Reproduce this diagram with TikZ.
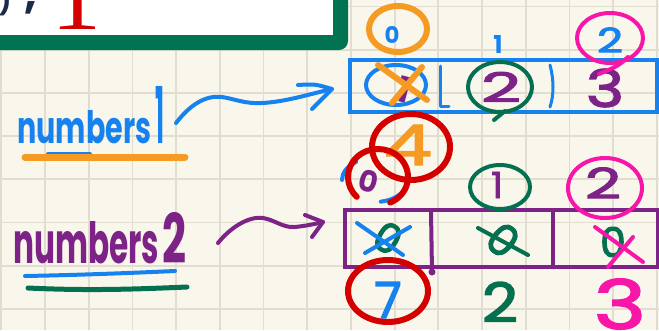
\documentclass[tikz,border=0pt]{standalone}
\usepackage{fontspec}
\setmainfont{Poppins}
\newfontfamily\serifnum{Liberation Serif}
\newfontfamily\pmid{Poppins}[FakeBold=2.5]
\usepackage{graphicx}
\definecolor{pblue}{RGB}{21,130,240}
\definecolor{porange}{RGB}{245,155,35}
\definecolor{ppurple}{RGB}{125,35,135}
\definecolor{pgreen}{RGB}{5,112,80}
\definecolor{ppink}{RGB}{248,22,168}
\definecolor{pred}{RGB}{212,0,0}
\definecolor{framegreen}{RGB}{0,115,82}
\definecolor{navy}{RGB}{30,42,75}
\definecolor{paper}{RGB}{249,247,236}
\definecolor{gridc}{RGB}{225,222,209}
\tikzset{
  pen/.style={line width=4pt, line cap=round, line join=round},
  fatpen/.style={line width=6pt, line cap=round, line join=round},
  digit/.style={inner sep=0pt, font=\bfseries},
  bigdigit/.style={inner sep=0pt, font=\pmid},
  gridline/.style={gridc, line width=1.8pt},
}
\begin{document}
\begin{tikzpicture}[x=1pt,y=-1pt]
\useasboundingbox (0,0) rectangle (659,330);
\clip (0,0) rectangle (659,330);
\fill[paper] (0,0) rectangle (659,330);
% grid
\foreach \i in {0,...,15} \draw[gridline] ({1.3+43.7*\i},0) -- ({1.3+43.7*\i},330);
\foreach \j in {0,...,7} \draw[gridline] (0,{6.5+43.2*\j}) -- (659,{6.5+43.2*\j});
% framed white box at top left
\fill[framegreen, rounded corners=9pt] (-30,-30) rectangle (348,50);
\fill[white] (-30,-30) rectangle (333,35);
\node[inner sep=0pt, anchor=base, text=navy, font=\bfseries\fontsize{26}{26}\selectfont] (frag1) at (5,10) {)};
\node[inner sep=0pt, anchor=base, text=navy, font=\bfseries\fontsize{44}{44}\selectfont] (frag2) at (31,8) {,};
\node[inner sep=0pt, anchor=base, text=pred] (frag3) at (76,29) {\resizebox{50pt}{64pt}{\serifnum 1}};
% labels
\node[inner sep=0pt, anchor=base west, text=pblue, font=\bfseries] (lab1) at (17,143)
  {\resizebox{134pt}{33pt}{numbers}\hspace{4pt}\resizebox{9pt}{57pt}{1}};
\node[inner sep=0pt, anchor=base west, text=ppurple, font=\bfseries] (lab2) at (13,263)
  {\resizebox{146pt}{42pt}{numbers}\hspace{3pt}\resizebox{24pt}{51pt}{2}};
% underlines
\draw[pen, pblue] (48,154) -- (90,154);
\draw[line width=7pt, line cap=round, porange] (25,157) -- (185,157);
\draw[pen, pblue] (25,276) .. controls (80,275) and (130,273) .. (175,271);
\draw[line width=5pt, line cap=round, pgreen] (28,288) .. controls (90,291) and (140,289) .. (187,287);
% arrows
\coordinate (a1s) at (176,123);
\coordinate (a1e) at (332,89);
\coordinate (a1h1) at (298,85);
\coordinate (a1h2) at (312,109);
\draw[pen, pblue] (a1s) .. controls (190,105) and (205,95) .. (222,97)
   .. controls (235,99) and (245,104) .. (262,103)
   .. controls (285,102) and (310,94) .. (a1e);
\draw[pen, pblue] (a1h1) .. controls (315,84) .. (a1e) -- (a1h2);
\coordinate (a2s) at (218,243);
\coordinate (a2e) at (323,222);
\coordinate (a2h1) at (305,215);
\coordinate (a2h2) at (312,237);
\draw[pen, ppurple] (a2s) .. controls (230,228) and (248,216) .. (263,218)
   .. controls (275,220) and (283,228) .. (295,227)
   .. controls (305,226) and (315,224) .. (a2e);
\draw[pen, ppurple] (a2h1) -- (a2e) -- (a2h2);
% array 1
\node[draw=pblue, line width=4pt, minimum width=307pt, minimum height=52pt, inner sep=0pt] (arr1) at (503.5,86) {};
\draw[pen, pblue, line width=3pt] (440,66) -- (440,106) -- (449,106);
\draw[pen, pblue, line width=3pt] (550,65) .. controls (554,80) and (554,95) .. (550,107);
% array 2
\node[draw=ppurple, line width=4pt, minimum width=313pt, minimum height=57pt, inner sep=0pt] (arr2) at (501.5,238.5) {};
\draw[pen, ppurple] (431,211) -- (432,272);
\fill[ppurple] (432,272) circle (3.5);
\draw[pen, ppurple] (553,212) -- (553,266);
% digits: row above array 1
\node[digit, text=pblue] (t0) at (392,35) {\resizebox{!}{17pt}{0}};
\node[digit, text=pblue] (t1) at (498,44) {\resizebox{!}{18pt}{1}};
\node[bigdigit, text=pblue] (t2) at (610,40) {\resizebox{26pt}{25pt}{2}};
% array 1 cells
\node[digit, text=ppurple, rotate=-15] (c11) at (404,90) {\resizebox{!}{26pt}{1}};
\node[bigdigit, text=ppurple] (c12) at (501,87) {\resizebox{40pt}{30pt}{2}};
\node[bigdigit, text=ppurple] (c13) at (605,88) {\resizebox{38pt}{38pt}{3}};
% below array 1
\node[bigdigit, text=porange] (f4) at (408,145) {\resizebox{48pt}{40pt}{4}};
% above array 2
\node[digit, text=ppurple, rotate=-15] (u0) at (369,181) {\resizebox{!}{22pt}{0}};
\node[bigdigit, text=ppurple] (u1) at (497,185) {\resizebox{!}{26pt}{1}};
\node[bigdigit, text=ppurple] (u2) at (603,183) {\resizebox{36pt}{31pt}{2}};
% array 2 cells
\node[bigdigit, text=pgreen, rotate=-30] (d1) at (388,238) {\resizebox{!}{30pt}{0}};
\node[bigdigit, text=pgreen, rotate=-40] (d2) at (503,240) {\resizebox{!}{32pt}{0}};
\node[bigdigit, text=pgreen] (d3) at (613,242) {\resizebox{!}{30pt}{0}};
% below array 2
\node[bigdigit, text=pblue] (b7) at (388,300) {\resizebox{!}{36pt}{7}};
\node[bigdigit, text=pgreen] (b2) at (500,302) {\resizebox{36pt}{40pt}{2}};
\node[bigdigit, text=ppink] (b3) at (620,304) {\resizebox{52pt}{50pt}{3}};
% marks on array 1
\draw[fatpen, porange] (398,29) ellipse [x radius=29, y radius=23];
\draw[pen, ppink] (610,38) ellipse [x radius=33, y radius=25];
\draw[pen, ppink] (628,57) .. controls (618,66) .. (599,74);
\draw[pen, pblue] (396,85) ellipse [x radius=30, y radius=20];
\draw[fatpen, porange] (378,65) -- (427,100);
\draw[fatpen, porange] (422,67) -- (392,103);
\draw[pen, pgreen] (500,87) ellipse [x radius=32, y radius=25];
\draw[pen, pgreen] (505,111) .. controls (500,116) .. (494,120);
% marks between arrays
\draw[pen, pblue] (375,180) ++(180:33 and 22) arc[start angle=180, end angle=235, x radius=33, y radius=22];
\draw[pen, pblue] (375,180) ++(10:33 and 22) arc[start angle=10, end angle=80, x radius=33, y radius=22];
\draw[fatpen, pred] (411,147) ellipse [x radius=39, y radius=33];
\draw[fatpen, pred] (378,177) ++(135:30 and 28) arc[start angle=135, end angle=426, x radius=30, y radius=28];
\draw[pen, pgreen] (500,187) ellipse [x radius=30, y radius=22];
\draw[pen, ppink] (605,188) ellipse [x radius=37, y radius=30];
% marks on array 2
\draw[pen, pblue] (357,223) -- (403,255);
\draw[pen, pblue] (410,227) -- (365,253);
\draw[pen, pgreen] (478,228) -- (528,255);
\draw[pen, ppink] (595,227) -- (643,262);
\draw[pen, ppink] (633,237) -- (608,267);
% below array 2
\draw[fatpen, pred] (388,291) ellipse [x radius=40, y radius=31];
\end{tikzpicture}
\end{document}
